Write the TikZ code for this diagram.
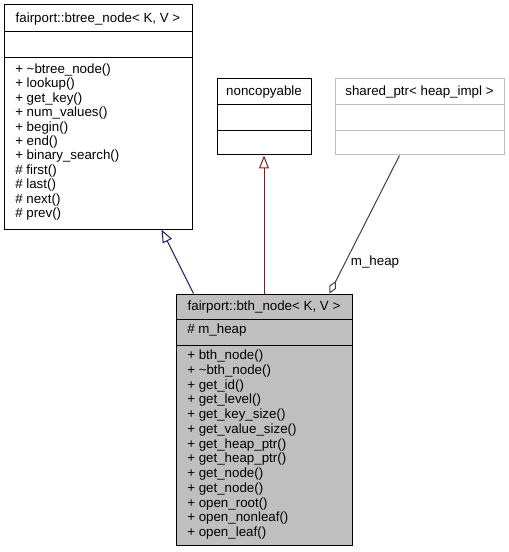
\documentclass[tikz,border=0pt]{standalone}
\usepackage{fontspec}
\setmainfont{Liberation Sans}
\usetikzlibrary{fit,calc,arrows.meta}

\definecolor{edgeblue}{RGB}{25,25,112}
\definecolor{edgered}{RGB}{139,26,26}
\definecolor{edgegrey}{RGB}{64,64,64}
\definecolor{boxgrey}{RGB}{191,191,191}

\tikzset{
  classbox/.style={draw, inner sep=0pt, line width=0.75pt},
  classname/.style={anchor=base, inner sep=0pt},
  member/.style={anchor=base west, inner sep=0pt},
  inherit/.style={-{Triangle[open, length=9.75pt, width=7.5pt]}, line width=0.75pt},
  uses/.style={{Diamond[open, length=10.5pt, width=5.5pt]}-, draw=edgegrey, line width=0.75pt},
}

\begin{document}
\begin{tikzpicture}[x=0.75pt, y=-0.75pt, font=\fontsize{10}{12}\selectfont]
\useasboundingbox (0,0) rectangle (509,552);

% btree_node
\node[classbox, fit={(4,5) (192,229)}] (btree) {};
\draw (4,31) -- (192,31) (4,57) -- (192,57);
\node[classname] (btree name) at (98,22.3) {fairport::btree\_node< K, V >};
\foreach \m [count=\i] in {+ \textasciitilde btree\_node(), + lookup(), + get\_key(), + num\_values(), + begin(), + end(), + binary\_search(), \# first(), \# last(), \# next(), \# prev()}
  \node[member] (btree m\i) at (15,{73.5+14.4*(\i-1)}) {\m};

% noncopyable
\node[classbox, fit={(217,79) (311,155)}] (noncopy) {};
\draw (217,104) -- (311,104) (217,130) -- (311,130);
\node[classname] (noncopy name) at (264,95.5) {noncopyable};

% shared_ptr
\node[classbox, draw=boxgrey, fit={(335,79) (504,155)}] (shared) {};
\draw[boxgrey] (335,104) -- (504,104) (335,130) -- (504,130);
\node[classname] (shared name) at (419.5,95.5) {shared\_ptr< heap\_impl >};

% bth_node
\node[classbox, fill=boxgrey, fit={(176,294) (352,545)}] (bth) {};
\draw (176,319) -- (352,319) (176,345) -- (352,345);
\node[classname] (bth name) at (264,310.5) {fairport::bth\_node< K, V >};
\node[member] (bth attr) at (187,333.5) {\# m\_heap};
\foreach \m [count=\i] in {+ bth\_node(), + \textasciitilde bth\_node(), + get\_id(), + get\_level(), + get\_key\_size(), + get\_value\_size(), + get\_heap\_ptr(), + get\_heap\_ptr(), + get\_node(), + get\_node(), + open\_root(), + open\_nonleaf(), + open\_leaf()}
  \node[member] (bth m\i) at (187,{359.5+14.75*(\i-1)}) {\m};

% edges
\draw[inherit, edgeblue] ($(bth.north west)+(18,0)$) -- ($(btree.south west)+(158,0)$);
\draw[inherit, edgered] (bth.north) -- (noncopy.south);
\draw[uses] ($(bth.north west)+(154,0)$) -- ($(shared.south west)+(65,0)$);
\node (heap label) at (375,262) {m\_heap};

\end{tikzpicture}
\end{document}
